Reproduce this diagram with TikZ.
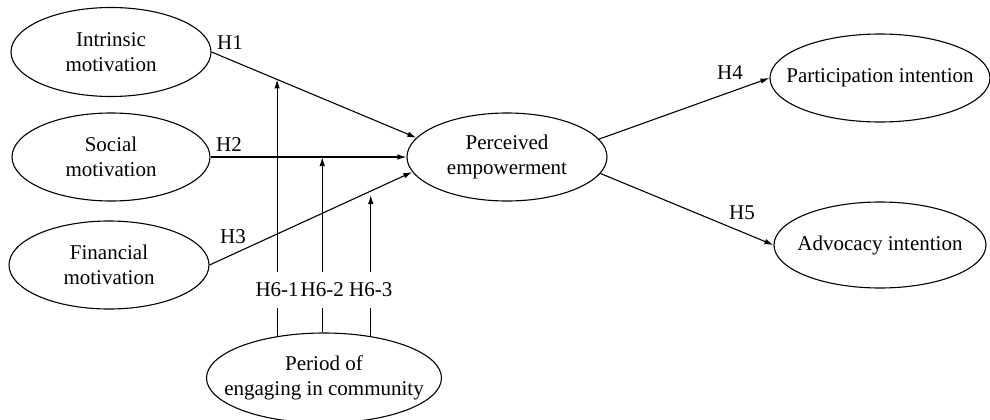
\documentclass[tikz,border=0pt]{standalone}
\usepackage{fontspec}
\setmainfont{Liberation Serif}
\usetikzlibrary{positioning, calc, shapes.geometric, arrows.meta}
\tikzset{
	construct/.style={draw, ellipse, line width=1.1pt, align=center, inner xsep=-30pt, inner ysep=-5pt},
	hyp/.style={inner sep=1pt},
	modlabel/.style={inner xsep=1pt, inner ysep=11pt},
	link/.style={line width=1.1pt},
	path arrow/.style={link, -{Latex[length=9pt,width=5.5pt]}},
}

\begin{document}
\begin{tikzpicture}[x=1pt, y=-1pt, font=\fontsize{21}{25}\selectfont]
	\useasboundingbox (0,0) rectangle (990,420);

	% constructs
	\node[construct, minimum width=200pt, minimum height=89pt] (intr) at (111,52) {Intrinsic\\motivation};
	\node[construct, minimum width=198pt, minimum height=88pt] (soc) at (111,157) {Social\\motivation};
	\node[construct, minimum width=200pt, minimum height=88pt] (fin) at (109,265) {Financial\\motivation};
	\node[construct, minimum width=200pt, minimum height=88pt] (perc) at (507,157) {Perceived\\empowerment};
	\node[construct, minimum width=220pt, minimum height=88pt] (part) at (880,78) {Participation intention};
	\node[construct, minimum width=212pt, minimum height=86pt] (adv) at (880,245) {Advocacy intention};
	\node[construct, minimum width=235pt, minimum height=90pt] (period) at (324,378) {Period of\\engaging in community};

	% direct paths
	\draw[path arrow] (intr.east) -- (perc.168) coordinate[pos=0.32] (m1);
	\draw[path arrow] (soc.east) -- (perc.west) coordinate[pos=0.57] (m2);
	\draw[path arrow] (fin.east) -- (perc.189) coordinate[pos=0.795] (m3);
	\draw[path arrow] (perc.11) -- (part.west);
	\draw[path arrow] (perc.-10) -- (adv.west);

	\node[hyp] (h1) at (230,43) {H1};
	\node[hyp] (h2) at (229,145) {H2};
	\node[hyp] (h3) at (233,237) {H3};
	\node[hyp] (h4) at (730,73) {H4};
	\node[hyp] (h5) at (742,213) {H5};

	% moderation
	\node[modlabel] (h61) at (m1 |- 0,290) {H6-1};
	\node[modlabel] (h62) at (m2 |- 0,290) {H6-2};
	\node[modlabel] (h63) at (m3 |- 0,290) {H6-3};

	\draw[link] (h61.south) -- (h61 |- period.140);
	\draw[link] (h62.south) -- (h62 |- period.north);
	\draw[link] (h63.south) -- (h63 |- period.42);
	\draw[path arrow] (h61.north) -- (m1);
	\draw[path arrow] (h62.north) -- (m2);
	\draw[path arrow, shorten >=4pt] (h63.north) -- (m3);
\end{tikzpicture}
\end{document}
